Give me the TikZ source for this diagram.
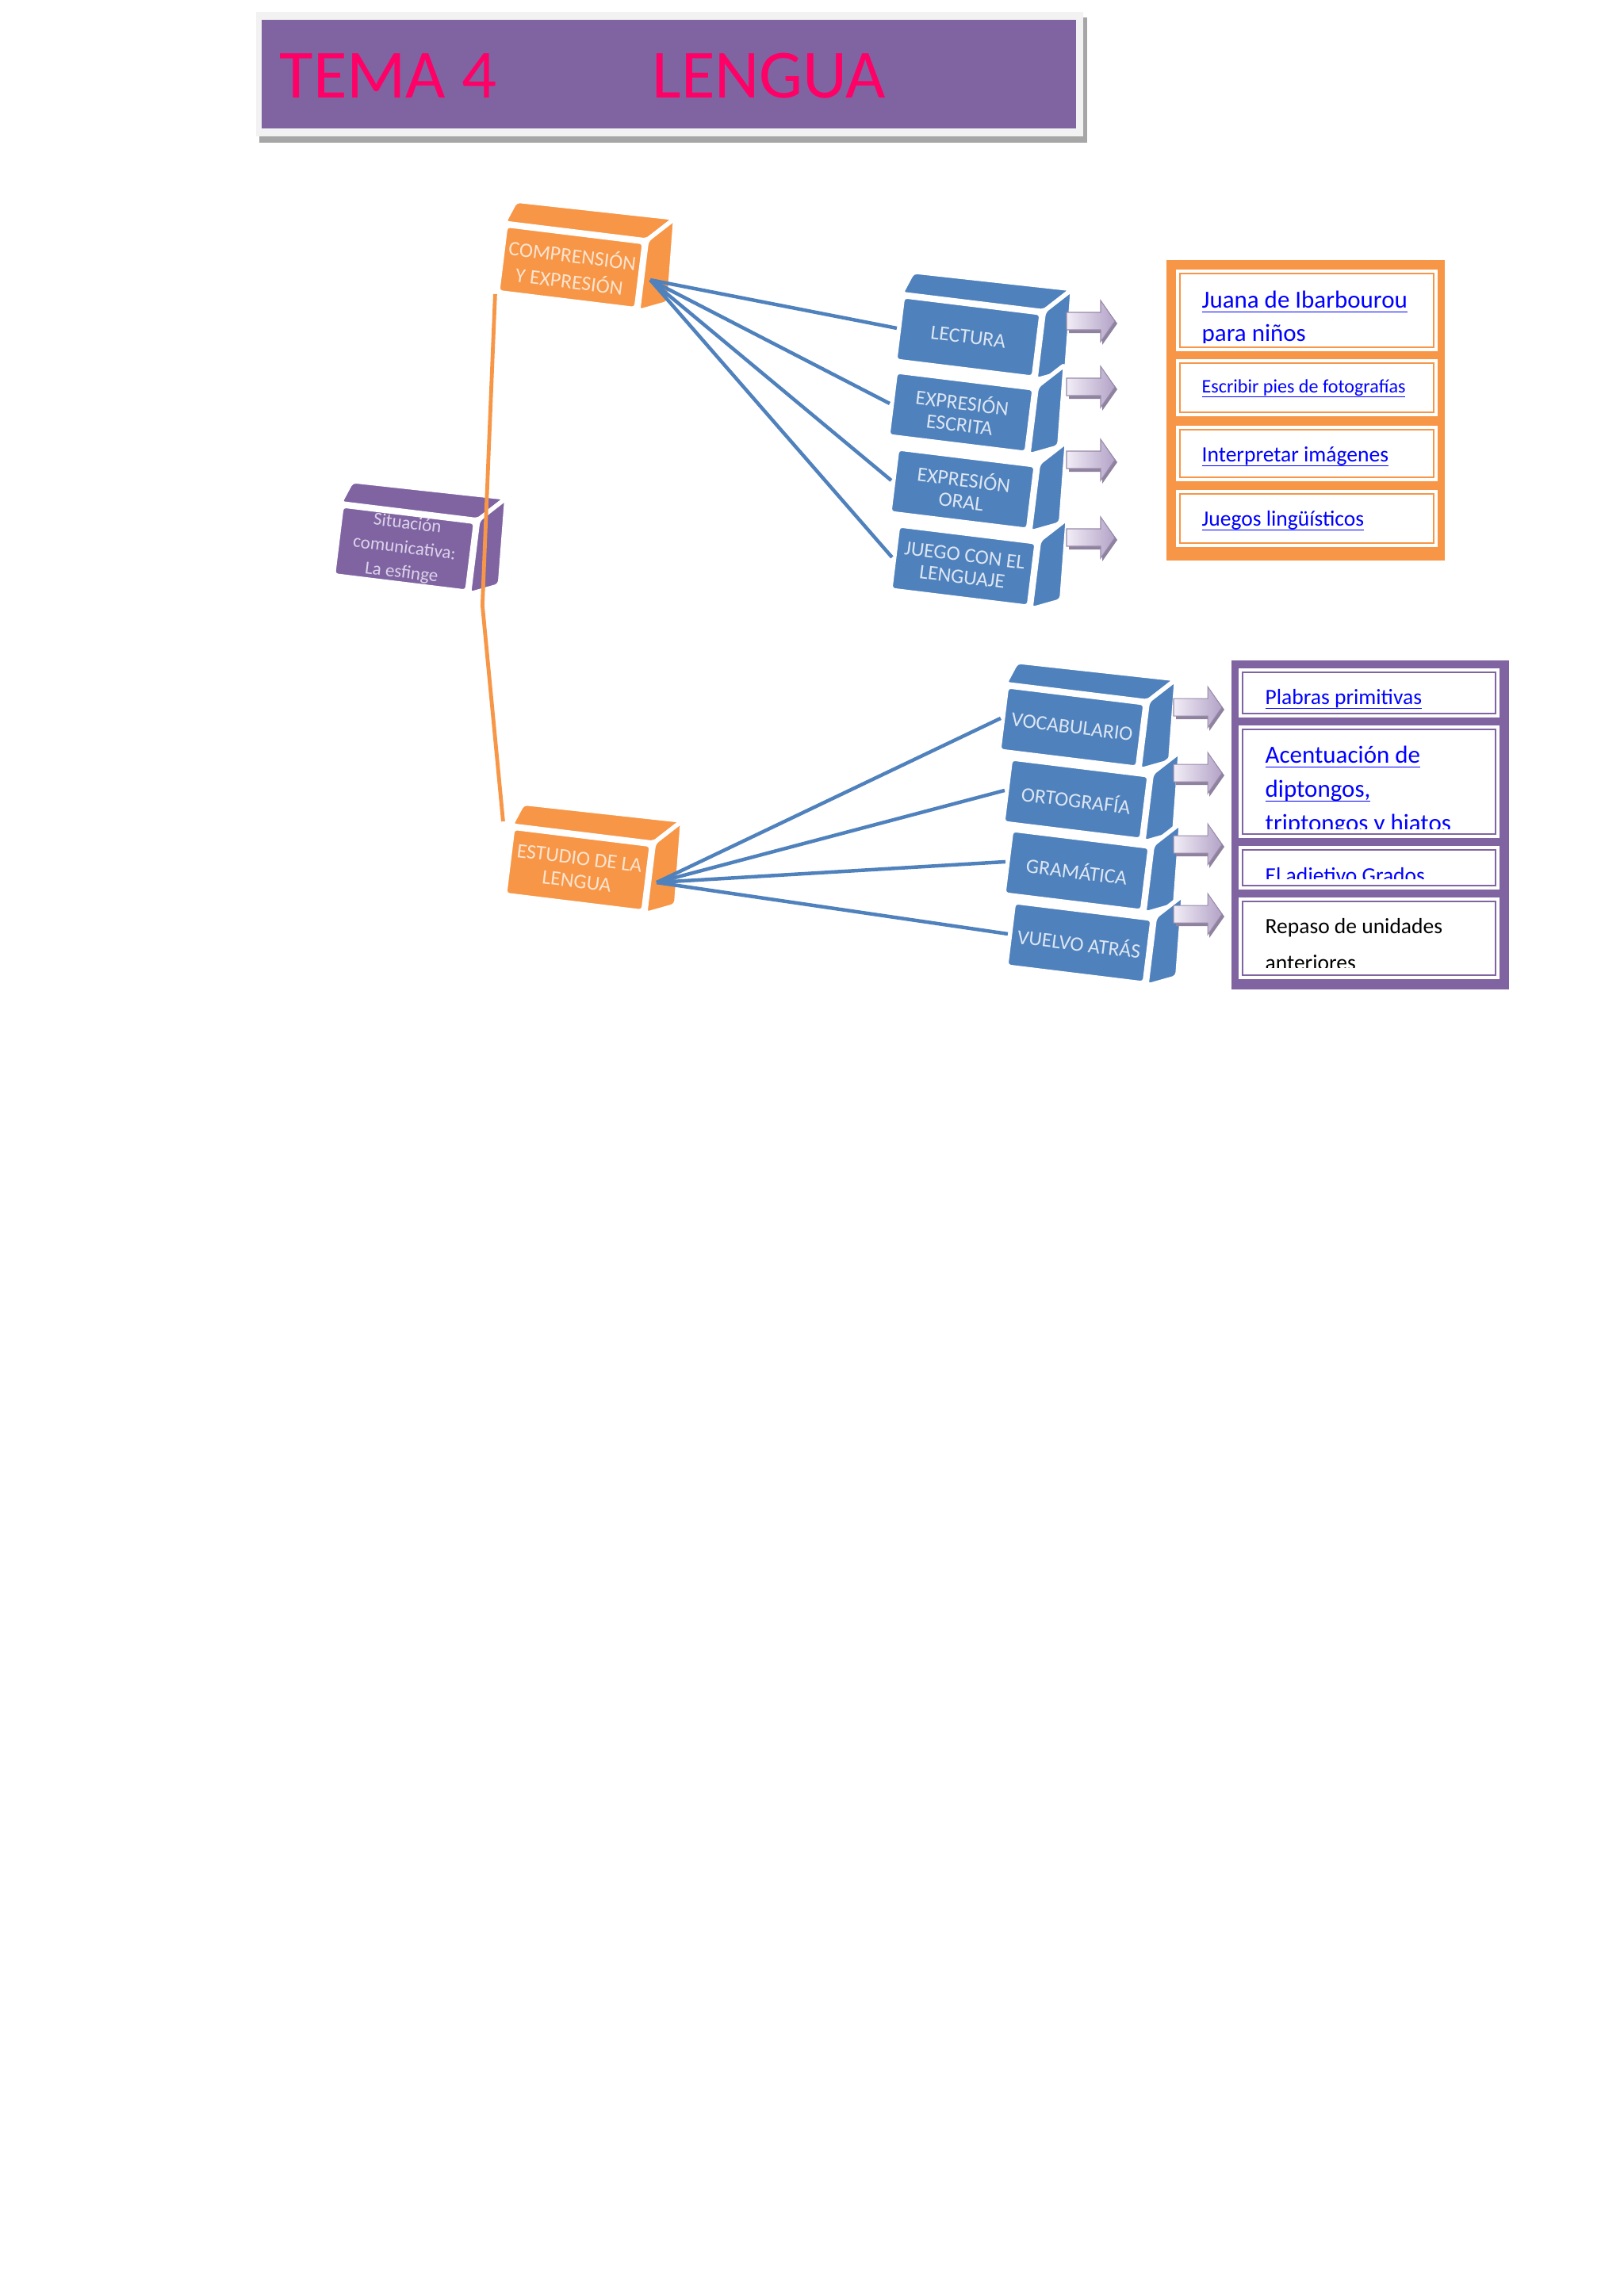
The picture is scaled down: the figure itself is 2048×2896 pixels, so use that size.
\documentclass[tikz,border=0pt]{standalone}
\usepackage{fontspec}
\setmainfont{Carlito}
\usetikzlibrary{calc}

\definecolor{morado}{HTML}{8064A2}
\definecolor{moradoclaro}{HTML}{DCD3EA}
\definecolor{naranja}{HTML}{F79646}
\definecolor{naranjaclaro}{HTML}{FDE4D0}
\definecolor{azul}{HTML}{4F81BD}
\definecolor{azulclaro}{HTML}{DCE6F2}
\definecolor{rosa}{HTML}{FF0066}
\definecolor{enlace}{HTML}{0000FF}
\definecolor{lila}{HTML}{B3A2C7}
\definecolor{lilaclaro}{HTML}{F1EDF6}
\definecolor{marco}{HTML}{F2F2F2}
\definecolor{sombra}{HTML}{A6A6A6}

\newcommand{\pix}{0.2907pt}
\newcommand{\subr}[1]{\underline{\smash{#1}}}
% caras de arriba y de la derecha de una caja
\newcommand{\tapa}[2]{%
  \path[cara, fill=#2] (#1.north west) -- ++(15,-28) -- ($(#1.north east)+(36,-28)$) -- (#1.north east) -- cycle;}
\newcommand{\lado}[2]{%
  \path[cara, fill=#2] (#1.north east) -- ($(#1.north east)+(36,-28)$) -- ($(#1.south east)+(39,-11)$) -- (#1.south east) -- cycle;}

\tikzset{
  cara/.style={draw=white, line width=1.6pt, rounded corners=1.5pt},
  caja/.style={cara, rotate=-7, inner sep=1pt, align=center, font=\fontsize{7.5}{8}\selectfont},
  cajaazul/.style={caja, fill=azul, text=azulclaro, minimum width=176*\pix, minimum height=82*\pix},
  cajanaranja/.style={caja, fill=naranja, text=naranjaclaro, minimum width=176*\pix, minimum height=85*\pix},
  cajamorada/.style={caja, fill=morado, text=moradoclaro, minimum width=170*\pix, minimum height=88*\pix, font=\fontsize{6.7}{9}\selectfont},
  rama/.style={draw=naranja, line width=1.4pt},
  enlaceazul/.style={draw=azul, line width=1.3pt},
  flecha/.pic={
    \path[fill=lila!80!black] (3,-8) -- (45,-8) -- (45,-23) -- (64,3) -- (45,30) -- (45,15) -- (3,15) -- cycle;
    \path[left color=lilaclaro, right color=lila, draw=lila!85!black, line width=0.3pt]
      (0,-11) -- (43,-11) -- (43,-26) -- (61,0) -- (43,26) -- (43,11) -- (0,11) -- cycle;},
  recuadro/.style={fill=white},
  filete/.style={line width=0.7pt},
  texto/.style={anchor=north west, inner sep=0pt, align=left},
}

\begin{document}
\begin{tikzpicture}[x=\pix, y=-\pix]
\useasboundingbox[fill=white] (0,0) rectangle (2048,2896);

% titulo
\path[fill=sombra] (327,22) rectangle (1371,180);
\path[fill=marco] (323,15) rectangle (1366,172);
\path[fill=morado] (330,25) rectangle (1357,162);
\node[anchor=base west, inner sep=0pt, text=rosa, font=\fontsize{25.3}{30}\selectfont] (tema) at (352,123) {TEMA 4};
\node[anchor=base west, inner sep=0pt, text=rosa, font=\fontsize{25.3}{30}\selectfont] (lengua) at (822,123) {LENGUA};

% cajas del mapa
\node[cajamorada] (sit) at (510,692) {Situación\\comunicativa:\\La esfinge};
\tapa{sit}{morado} \lado{sit}{morado}
\node[cajanaranja, font=\fontsize{7.5}{9.5}\selectfont] (comp) at (720,337) {COMPRENSIÓN\\Y EXPRESIÓN};
\tapa{comp}{naranja} \lado{comp}{naranja}
\node[cajanaranja, font=\fontsize{7.5}{8.5}\selectfont] (est) at (729,1097) {ESTUDIO DE LA\\LENGUA};
\tapa{est}{naranja} \lado{est}{naranja}

\node[cajaazul] (lect) at (1221,425) {LECTURA};
\node[cajaazul] (escr) at (1212,520) {EXPRESIÓN\\ESCRITA};
\node[cajaazul] (oral) at (1214,617) {EXPRESIÓN\\ORAL};
\node[cajaazul] (juego) at (1215,714) {JUEGO CON EL\\LENGUAJE};
\tapa{lect}{azul}
\foreach \c in {lect,escr,oral,juego} {\lado{\c}{azul}}

\node[cajaazul] (voc) at (1352,917) {VOCABULARIO};
\node[cajaazul] (orto) at (1357,1008) {ORTOGRAFÍA};
\node[cajaazul] (gram) at (1358,1098) {GRAMÁTICA};
\node[cajaazul] (vuel) at (1361,1189) {VUELVO ATRÁS};
\tapa{voc}{azul}
\foreach \c in {voc,orto,gram,vuel} {\lado{\c}{azul}}

% conexiones
\draw[rama] (comp.south west) -- ([shift={(17,14)}]sit.south east) -- ([shift={(-10,-5)}]est.north west);
\foreach \d in {lect,escr,oral,juego} \draw[enlaceazul] ([shift={(10,5)}]comp.east) -- (\d.west);
\foreach \d in {voc,orto,gram,vuel} \draw[enlaceazul] ([shift={(9,5)}]est.east) -- (\d.west);

% flechas
\foreach \y [count=\i] in {405,488,580,678} \pic (fa\i) at (1345,\y) {flecha};
\foreach \y [count=\i] in {892,975,1065,1153} \pic (fb\i) at (1480,\y) {flecha};

% enlaces naranja
\path[fill=naranja] (1471,328) rectangle (1822,707);
\foreach \a/\b in {340/443, 453/525, 537/607, 618/690} {
  \path[recuadro] (1483,\a) rectangle (1813,\b);
  \draw[filete, naranja] (1488,\a+5) rectangle (1808,\b-5);
}
\begin{scope}
  \clip (1488,345) rectangle (1808,432);
  \node[texto, text=enlace, font=\fontsize{9}{12.2}\selectfont] (juana) at (1515,388) {\subr{Juana de Ibarbourou}\\\subr{para niños}};
\end{scope}
\node[texto, text=enlace, font=\fontsize{7}{8}\selectfont] (pies) at (1515,495) {\subr{Escribir pies de fotografías}};
\node[texto, text=enlace, font=\fontsize{8}{10}\selectfont] (interp) at (1515,582) {\subr{Interpretar imágenes}};
\node[texto, text=enlace, font=\fontsize{8}{10}\selectfont] (juegos) at (1515,663) {\subr{Juegos lingüísticos}};

% enlaces morado
\path[fill=morado] (1553,833) rectangle (1903,1248);
\foreach \a/\b in {843/905, 915/1057, 1067/1122, 1132/1235} {
  \path[recuadro] (1562,\a) rectangle (1891,\b);
  \draw[filete, morado] (1567,\a+5) rectangle (1886,\b-5);
}
\node[texto, text=enlace, font=\fontsize{8}{10}\selectfont] (plabras) at (1595,888) {\subr{Plabras primitivas}};
\begin{scope}
  \clip (1567,920) rectangle (1886,1045);
  \node[texto, text=enlace, font=\fontsize{9}{12.5}\selectfont] (acent) at (1595,962) {\subr{Acentuación de}\\\subr{diptongos,}\\\subr{triptongos y hiatos}};
\end{scope}
\begin{scope}
  \clip (1567,1072) rectangle (1886,1108);
  \node[texto, text=enlace, font=\fontsize{8}{10}\selectfont] (adjet) at (1595,1113) {\subr{El adjetivo Grados}};
\end{scope}
\begin{scope}
  \clip (1567,1137) rectangle (1886,1220);
  \node[texto, text=black, font=\fontsize{8}{13.4}\selectfont] (repaso) at (1595,1177) {\smash{Repaso de unidades}\\\smash{anteriores}};
\end{scope}
\end{tikzpicture}
\end{document}
